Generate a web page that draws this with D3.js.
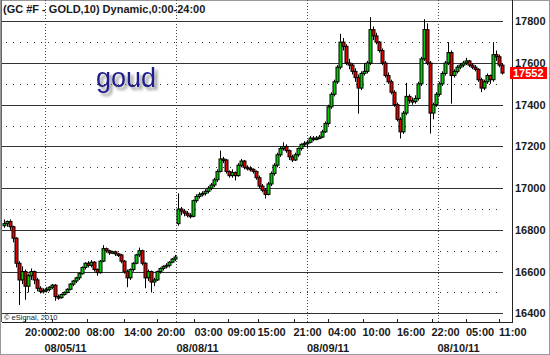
<!DOCTYPE html>
<html>
<head>
<meta charset="utf-8">
<script src="https://cdn.jsdelivr.net/npm/d3@7"></script>
<style>
body { margin: 0; background: #fff; }
svg { display: block; font-family: "Liberation Sans", Arial, sans-serif; }
</style>
</head>
<body>
<div id="chart"></div>
<script>
// GC #F 10-min candles

//data
var bars = [
  // 08/04 - 08/05 session
  [16820,16850,16810,16830],[16830,16845,16815,16840],[16840,16850,16800,16815],[16815,16820,16740,16760],
  [16760,16765,16620,16640],[16640,16650,16440,16560],[16560,16625,16540,16600],[16600,16610,16465,16530],
  [16530,16590,16500,16580],[16580,16615,16560,16600],[16600,16605,16540,16560],[16560,16570,16505,16520],
  [16520,16530,16495,16505],[16505,16520,16495,16510],[16510,16525,16500,16515],[16515,16530,16505,16525],
  [16525,16540,16515,16535],[16535,16540,16460,16480],[16480,16490,16465,16475],[16475,16495,16470,16490],
  [16490,16505,16485,16500],[16500,16520,16495,16515],[16515,16545,16510,16540],[16540,16560,16530,16555],
  [16555,16575,16545,16570],[16570,16595,16560,16590],[16590,16625,16585,16620],[16620,16645,16610,16640],
  [16640,16650,16620,16630],[16630,16655,16620,16645],[16645,16650,16600,16610],[16610,16615,16580,16595],
  [16595,16655,16590,16650],[16650,16727,16645,16710],[16710,16715,16690,16700],[16700,16705,16680,16690],
  [16690,16700,16685,16695],[16695,16700,16675,16685],[16685,16690,16670,16680],[16680,16685,16640,16650],
  [16650,16655,16590,16600],[16600,16610,16525,16570],[16570,16615,16560,16610],[16610,16645,16600,16640],
  [16640,16685,16635,16680],[16680,16715,16670,16700],[16700,16705,16630,16640],[16640,16645,16520,16570],
  [16570,16610,16555,16600],[16600,16605,16500,16550],[16550,16570,16530,16560],[16560,16605,16555,16600],
  [16600,16620,16590,16615],[16615,16630,16605,16625],[16625,16640,16615,16630],[16630,16650,16620,16645],
  [16645,16665,16640,16660],[16660,16680,16650,16670],
  // 08/08 onwards
  [16830,16975,16820,16900],[16900,16910,16870,16890],[16890,16900,16865,16880],[16880,16890,16860,16870],
  [16870,16880,16855,16865],[16865,16945,16860,16940],[16940,16970,16930,16960],[16960,16980,16950,16970],
  [16970,16985,16960,16975],[16975,16995,16965,16985],[16985,17010,16975,17000],[17000,17025,16990,17015],
  [17015,17050,17005,17040],[17040,17090,17030,17080],[17080,17180,17075,17140],[17140,17150,17120,17135],
  [17135,17140,17070,17080],[17080,17085,17050,17060],[17060,17090,17050,17075],[17075,17080,17037,17060],
  [17060,17120,17055,17110],[17110,17140,17100,17130],[17130,17135,17090,17100],[17100,17110,17085,17095],
  [17095,17105,17080,17090],[17090,17095,17070,17080],[17080,17085,17040,17050],[17050,17060,17000,17010],
  [17010,17020,16980,16990],[16990,17000,16950,16970],[16970,17030,16965,17020],[17020,17080,17010,17070],
  [17070,17120,17060,17110],[17110,17170,17100,17160],[17160,17200,17150,17190],[17190,17220,17180,17200],
  [17200,17210,17170,17180],[17180,17185,17135,17150],[17150,17160,17125,17135],[17135,17170,17130,17160],
  [17160,17195,17150,17190],[17190,17215,17180,17210],[17210,17225,17200,17215],[17215,17230,17190,17220],
  [17220,17250,17215,17240],[17240,17250,17225,17235],[17235,17250,17230,17240],[17240,17255,17235,17245],
  [17245,17280,17240,17270],[17270,17320,17265,17310],[17310,17400,17300,17390],[17390,17460,17380,17450],
  [17450,17520,17440,17510],[17510,17590,17500,17580],[17580,17740,17570,17700],[17700,17720,17660,17680],
  [17680,17690,17590,17600],[17600,17620,17570,17590],[17590,17600,17545,17560],[17560,17575,17510,17530],
  [17530,17545,17357,17480],[17480,17560,17470,17550],[17550,17600,17540,17560],[17560,17610,17550,17600],
  [17600,17820,17590,17760],[17760,17775,17710,17730],[17730,17745,17690,17700],[17700,17705,17650,17660],
  [17660,17670,17590,17600],[17600,17610,17530,17540],[17540,17555,17500,17510],[17510,17520,17450,17460],
  [17460,17470,17390,17400],[17400,17410,17320,17330],[17330,17340,17238,17270],[17270,17370,17260,17360],
  [17360,17505,17350,17440],[17440,17450,17405,17420],[17420,17435,17400,17415],[17415,17445,17405,17430],
  [17430,17510,17420,17500],[17500,17630,17490,17620],[17620,17810,17610,17760],[17760,17790,17590,17600],
  [17600,17610,17262,17360],[17360,17410,17330,17400],[17400,17460,17390,17450],[17450,17510,17440,17500],
  [17500,17560,17490,17550],[17550,17610,17540,17600],[17600,17700,17590,17650],[17650,17660,17405,17540],
  [17540,17570,17530,17560],[17560,17590,17550,17580],[17580,17600,17570,17590],[17590,17610,17580,17600],
  [17600,17625,17590,17610],[17610,17615,17580,17590],[17590,17600,17570,17580],[17580,17590,17560,17570],
  [17570,17575,17510,17520],[17520,17530,17460,17480],[17480,17520,17470,17510],[17510,17550,17500,17540],
  [17540,17545,17500,17520],[17520,17700,17510,17640],[17640,17660,17610,17630],[17630,17640,17580,17590],
  [17590,17600,17545,17552]
];

var priceTicks = [16400, 16600, 16800, 17000, 17200, 17400, 17600, 17800];
var halfTicks = [16500, 16700, 16900, 17100, 17300, 17500, 17700];

var timeTicks = [7, 16, 27.5, 40, 51, 63.5, 74.5, 84.5, 96.5, 108, 119.5, 131, 142.5, 154, 165];
var timeLabels = ["20:00","02:00","08:00","14:00","20:00","03:00","09:00","15:00",
                  "21:00","04:00","10:00","16:00","22:00","05:00","11:00"];

var dayBreaks = [13.5, 57.5, 101, 144.5];
var dayLabels = ["08/05/11","08/08/11","08/09/11","08/10/11"];

var lastPrice = 17552;
var title = "(GC #F - GOLD,10) Dynamic,0:00-24:00";

var W = 550, H = 355;
var plotLeft = 2, gridRight = 503, axisX = 512, axisY = 322;

//scales
var x = d3.scaleLinear().domain([0, bars.length - 1]).range([4, 502]);
var y = d3.scaleLinear().domain([16400, 17800]).range([313.3, 21.3]);

var svg = d3.select("#chart").append("svg")
	.attr("width", W)
	.attr("height", H);

var defs = svg.append("defs");
var shadow = defs.append("filter").attr("id", "shadow")
	.attr("x", "-20%").attr("y", "-20%").attr("width", "140%").attr("height", "160%");
shadow.append("feDropShadow")
	.attr("dx", 3).attr("dy", 3).attr("stdDeviation", 1.6)
	.attr("flood-color", "#777").attr("flood-opacity", 0.8);

svg.append("rect")
	.attr("x", 0.5).attr("y", 0.5)
	.attr("width", W - 1).attr("height", H - 1)
	.attr("fill", "#fff").attr("stroke", "#999");

// grid
svg.append("g").selectAll("line")
	.data(priceTicks)
	.enter().append("line")
	.attr("x1", plotLeft).attr("x2", gridRight)
	.attr("y1", function(d) {return Math.round(y(d)) + 0.5;})
	.attr("y2", function(d) {return Math.round(y(d)) + 0.5;})
	.attr("stroke", "#333");

svg.append("g").selectAll("line")
	.data(halfTicks)
	.enter().append("line")
	.attr("x1", plotLeft + 4).attr("x2", gridRight)
	.attr("y1", function(d) {return Math.round(y(d)) + 0.5;})
	.attr("y2", function(d) {return Math.round(y(d)) + 0.5;})
	.attr("stroke", "#333")
	.attr("stroke-dasharray", "1,6");

svg.append("g").selectAll("line")
	.data(dayBreaks)
	.enter().append("line")
	.attr("x1", function(d) {return Math.round(x(d)) + 0.5;})
	.attr("x2", function(d) {return Math.round(x(d)) + 0.5;})
	.attr("y1", 0).attr("y2", axisY)
	.attr("stroke", "#444")
	.attr("stroke-dasharray", "1,2");

// frame
svg.append("line")
	.attr("x1", 1.5).attr("x2", 1.5).attr("y1", 0).attr("y2", axisY)
	.attr("stroke", "#666");
svg.append("line")
	.attr("x1", axisX + 0.5).attr("x2", axisX + 0.5).attr("y1", 0).attr("y2", axisY + 1)
	.attr("stroke", "#222");
svg.append("line")
	.attr("x1", plotLeft).attr("x2", axisX + 1).attr("y1", axisY + 0.5).attr("y2", axisY + 0.5)
	.attr("stroke", "#222");

// title and watermark texts
svg.append("text")
	.attr("x", 3).attr("y", 13)
	.attr("font-size", 11).attr("font-weight", "bold")
	.attr("fill", "#1a1a1a")
	.text(title);

svg.append("text")
	.attr("x", 96).attr("y", 87)
	.attr("font-size", 27)
	.attr("fill", "#1c1c8c")
	.attr("filter", "url(#shadow)")
	.text("goud");

svg.append("text")
	.attr("x", 4).attr("y", 320)
	.attr("font-size", 7.5)
	.attr("fill", "#222")
	.text("\u00a9 eSignal, 2010");

// candles
var candles = svg.append("g").selectAll("g")
	.data(bars)
	.enter().append("g");

candles.append("line")
	.attr("x1", function(d, i) {return Math.round(x(i)) + 0.5;})
	.attr("x2", function(d, i) {return Math.round(x(i)) + 0.5;})
	.attr("y1", function(d) {return y(d[1]);})
	.attr("y2", function(d) {return y(d[2]);})
	.attr("stroke", "#000");

candles.append("rect")
	.attr("x", function(d, i) {return Math.round(x(i)) - 1;})
	.attr("width", 3)
	.attr("y", function(d) {return y(Math.max(d[0], d[3]));})
	.attr("height", function(d) {return Math.max(1.5, Math.abs(y(d[0]) - y(d[3])));})
	.attr("fill", function(d) {return d[3] >= d[0] ? "#00cc00" : "#e00000";})
	.attr("stroke", "#000")
	.attr("stroke-width", 1);

// price axis
svg.append("g").selectAll("text")
	.data(priceTicks)
	.enter().append("text")
	.attr("x", axisX + 3)
	.attr("y", function(d) {return y(d);})
	.attr("dy", "0.36em")
	.attr("font-size", 11).attr("font-weight", "bold")
	.attr("fill", "#1a1a1a")
	.text(function(d) {return d;});

// last price tag sits over the 17600 label, as in the picture
svg.append("rect")
	.attr("x", axisX - 2).attr("y", y(lastPrice) - 6)
	.attr("width", 37).attr("height", 12)
	.attr("fill", "#ff0000");
svg.append("text")
	.attr("x", axisX + 1).attr("y", y(lastPrice))
	.attr("dy", "0.36em")
	.attr("font-size", 11).attr("font-weight", "bold")
	.attr("fill", "#fff")
	.text(lastPrice);

// time axis
svg.append("g").selectAll("line")
	.data(timeTicks)
	.enter().append("line")
	.attr("x1", function(d) {return Math.round(x(d)) + 0.5;})
	.attr("x2", function(d) {return Math.round(x(d)) + 0.5;})
	.attr("y1", axisY - 3).attr("y2", axisY)
	.attr("stroke", "#222");

svg.append("g").selectAll("text")
	.data(timeLabels)
	.enter().append("text")
	.attr("x", function(d, i) {return x(timeTicks[i]);})
	.attr("y", 336)
	.attr("font-size", 11).attr("font-weight", "bold")
	.attr("fill", "#1a1a1a")
	.text(function(d) {return d;});

svg.append("g").selectAll("text")
	.data(dayLabels)
	.enter().append("text")
	.attr("x", function(d, i) {return x(dayBreaks[i]);})
	.attr("y", 352)
	.attr("font-size", 11).attr("font-weight", "bold")
	.attr("fill", "#1a1a1a")
	.text(function(d) {return d;});
</script>
</body>
</html>
